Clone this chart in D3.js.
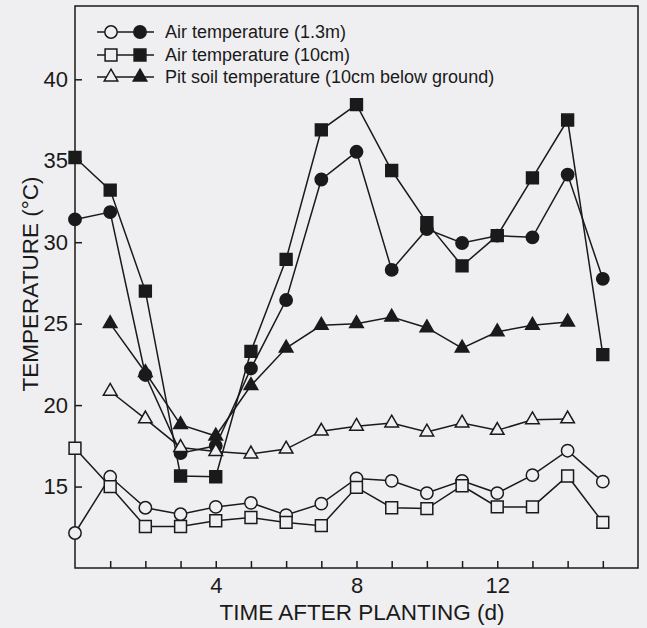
<!DOCTYPE html>
<html>
<head>
<meta charset="utf-8">
<script src="https://cdn.jsdelivr.net/npm/d3@7"></script>
<style>
  body { margin: 0; background: #efeff1; }
  svg text { font-family: "Liberation Sans", Arial, sans-serif; fill: #1a1a1a; }
</style>
</head>
<body>
<div id="main"></div>
<script>
// days after planting
const days = [0, 1, 2, 3, 4, 5, 6, 7, 8, 9, 10, 11, 12, 13, 14, 15];

// air temperature at 1.3m (filled = max, open = min)
const air13Max = [31.4, 31.85, 21.85, 17.05, 17.5, 22.25, 26.45, 33.85, 35.55, 28.3, 30.8, 29.95, 30.4, 30.3, 34.15, 27.75];
const air13Min = [12.15, 15.6, 13.7, 13.3, 13.75, 14.0, 13.25, 13.95, 15.5, 15.35, 14.6, 15.35, 14.6, 15.7, 17.2, 15.3];

// air temperature at 10cm
const air10Max = [35.2, 33.2, 27.0, 15.65, 15.6, 23.3, 28.95, 36.9, 38.45, 34.4, 31.2, 28.55, 30.4, 33.95, 37.5, 23.1];
const air10Min = [17.35, 15.0, 12.55, 12.55, 12.9, 13.1, 12.8, 12.6, 14.95, 13.7, 13.65, 15.05, 13.75, 13.75, 15.65, 12.8];

// pit soil temperature 10cm below ground (day 1 to 14)
const soilMax = [null, 25.0, 22.0, 18.8, 18.1, 21.2, 23.5, 24.9, 25.0, 25.4, 24.75, 23.5, 24.5, 24.9, 25.1, null];
const soilMin = [null, 20.85, 19.15, 17.4, 17.15, 17.0, 17.3, 18.4, 18.7, 18.9, 18.35, 18.9, 18.45, 19.1, 19.15, null];

const yTicks = [15, 20, 25, 30, 35, 40];
const xLabelTicks = [4, 8, 12];

const legendLabels = [
  "Air temperature (1.3m)",
  "Air temperature (10cm)",
  "Pit soil temperature (10cm below ground)"
];

const width = 647, height = 628;
const ink = "#1a1a1a", bg = "#efeff1";
const sw = 1.5;

const svg = d3.select('#main').append('svg')
  .attr('width', width).attr('height', height);

var xScale = d3.scaleLinear().domain([0, 16]).range([75, 638]);
var yScale = d3.scaleLinear().domain([10, 44.5]).range([568, 6]);

// frame
svg.append('rect')
  .attr('x', xScale(0)).attr('y', yScale(44.5))
  .attr('width', xScale(16) - xScale(0)).attr('height', yScale(10) - yScale(44.5))
  .attr('fill', 'none').attr('stroke', ink).attr('stroke-width', sw);

// x axis: inward ticks every day, labels on 4, 8, 12
var xAxis = d3.axisBottom(xScale)
  .tickValues(d3.range(1, 16))
  .tickSizeInner(-7).tickSizeOuter(0)
  .tickFormat(d => xLabelTicks.includes(d) ? d : "");
var gx = svg.append('g').attr('transform', 'translate(0,' + yScale(10) + ')').call(xAxis);
gx.select('.domain').remove();
gx.selectAll('line').attr('stroke', ink).attr('stroke-width', sw);
gx.selectAll('text').attr('font-size', 22).attr('dy', '1.0em').attr('fill', ink);

// y axis
var yAxis = d3.axisLeft(yScale).tickValues(yTicks).tickSizeInner(-7).tickSizeOuter(0).tickPadding(7);
var gy = svg.append('g').attr('transform', 'translate(' + xScale(0) + ',0)').call(yAxis);
gy.select('.domain').remove();
gy.selectAll('line').attr('stroke', ink).attr('stroke-width', sw);
gy.selectAll('text').attr('font-size', 22).attr('fill', ink);

// axis titles
svg.append('text').attr('x', 362).attr('y', 620)
  .attr('text-anchor', 'middle').attr('font-size', 22.5)
  .text("TIME AFTER PLANTING (d)");
svg.append('text')
  .attr('transform', 'translate(38,284) rotate(-90)')
  .attr('text-anchor', 'middle').attr('font-size', 22.5)
  .text("TEMPERATURE (°C)");

const series = [
  { values: air13Max, shape: d3.symbolCircle, size: 120, filled: true },
  { values: air10Max, shape: d3.symbolSquare, size: 140, filled: true },
  { values: soilMax, shape: d3.symbolTriangle, size: 80, filled: true },
  { values: soilMin, shape: d3.symbolTriangle, size: 80, filled: false },
  { values: air13Min, shape: d3.symbolCircle, size: 120, filled: false },
  { values: air10Min, shape: d3.symbolSquare, size: 140, filled: false }
];

var line = d3.line()
  .defined(d => d.v != null)
  .x(d => xScale(d.day))
  .y(d => yScale(d.v));

series.forEach(function(s) {
  var pts = days.map((day, i) => ({ day: day, v: s.values[i] }));
  svg.append('path').datum(pts)
    .attr('d', line).attr('fill', 'none')
    .attr('stroke', ink).attr('stroke-width', sw);
});

series.forEach(function(s) {
  var pts = days.map((day, i) => ({ day: day, v: s.values[i] })).filter(d => d.v != null);
  svg.append('g').selectAll('path').data(pts).enter().append('path')
    .attr('d', d3.symbol().type(s.shape).size(s.size))
    .attr('transform', d => 'translate(' + xScale(d.day) + ',' + yScale(d.v) + ')')
    .attr('fill', s.filled ? ink : bg)
    .attr('stroke', ink).attr('stroke-width', sw);
});

// legend
const legendShapes = [
  { shape: d3.symbolCircle, size: 120 },
  { shape: d3.symbolSquare, size: 140 },
  { shape: d3.symbolTriangle, size: 80 }
];
const legendY = [32, 55, 77];
var legend = svg.append('g');
legendShapes.forEach(function(s, i) {
  var y = legendY[i];
  legend.append('line').attr('x1', 97).attr('x2', 154).attr('y1', y).attr('y2', y)
    .attr('stroke', ink).attr('stroke-width', sw);
  legend.append('path').attr('d', d3.symbol().type(s.shape).size(s.size))
    .attr('transform', 'translate(111,' + y + ')')
    .attr('fill', bg).attr('stroke', ink).attr('stroke-width', sw);
  legend.append('path').attr('d', d3.symbol().type(s.shape).size(s.size))
    .attr('transform', 'translate(140,' + y + ')')
    .attr('fill', ink).attr('stroke', ink).attr('stroke-width', sw);
  legend.append('text').attr('x', 165).attr('y', y).attr('dy', '0.35em')
    .attr('font-size', 18).text(legendLabels[i]);
});
</script>
</body>
</html>
